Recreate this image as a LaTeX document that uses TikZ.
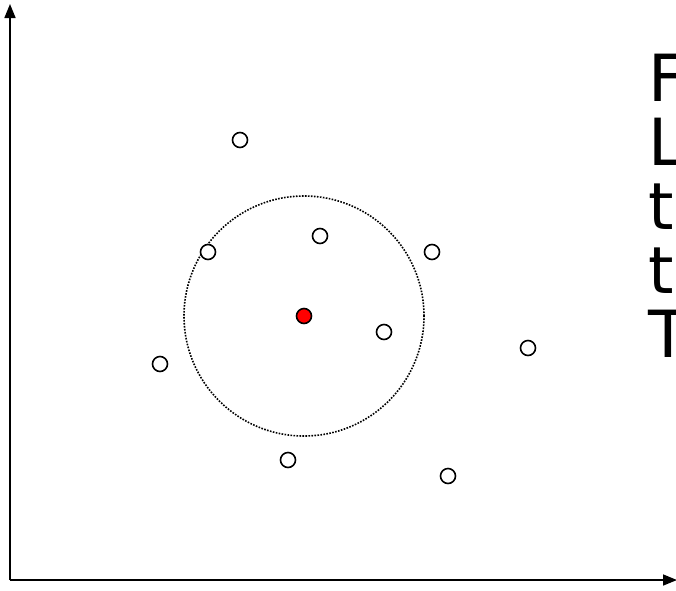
\documentclass[tikz,border=0pt]{standalone}
\usepackage{fontspec}
\setmainfont{DejaVu Sans}
\usetikzlibrary{arrows.meta}
\begin{document}
\begin{tikzpicture}[x=1pt,y=-1pt,
  pt/.style={circle,draw=black,line width=1.6pt,fill=white,minimum size=15pt,inner sep=0pt},
  redpt/.style={pt,fill=red},
  axis/.style={line width=1.6pt,-{Triangle[length=14pt,width=11pt]}},
  big/.style={anchor=base west,inner sep=0pt,font=\fontsize{65}{65}\selectfont}]
\useasboundingbox (0,0) rectangle (676,590);
\clip (0,0) rectangle (676,590);
\coordinate (o) at (10,580);
\coordinate (ytop) at (10,4);
\coordinate (xend) at (677,580);
\draw[axis] (o) -- (ytop);
\draw[axis] (o) -- (xend);
\node[circle,draw,dash pattern=on 1.6pt off 1.4pt,line width=1.6pt,minimum size=240pt,inner sep=0pt] (ring) at (304,316) {};
\node[pt] (p1) at (240,140) {};
\node[pt] (p2) at (320,236) {};
\node[pt] (p3) at (208,252) {};
\node[pt] (p4) at (432,252) {};
\node[pt] (p5) at (384,332) {};
\node[pt] (p6) at (160,364) {};
\node[pt] (p7) at (528,348) {};
\node[pt] (p8) at (288,460) {};
\node[pt] (p9) at (448,476) {};
\node[redpt] (c) at (304,316) {};
\node[big] (t1) at (648,101) {F};
\node[big] (t2) at (648,165) {L};
\node[big] (t3) at (648,229) {t};
\node[big] (t4) at (648,293) {t};
\node[big] (t5) at (648,357) {T};
\end{tikzpicture}
\end{document}
